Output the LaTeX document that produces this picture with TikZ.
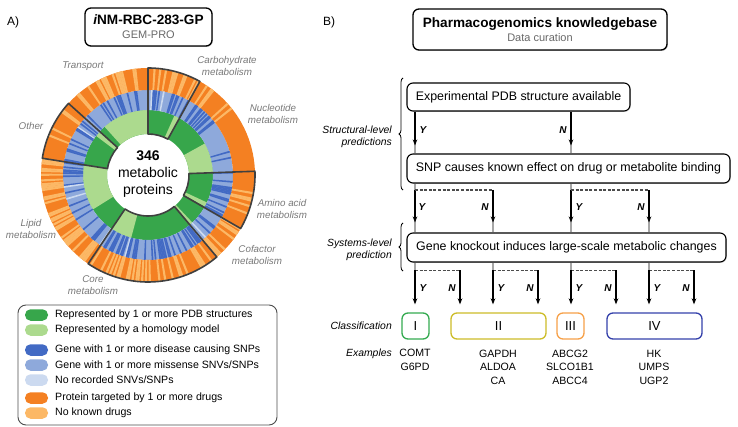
\documentclass[tikz,border=0pt]{standalone}
\usepackage{fontspec}
\setmainfont{Liberation Sans}
\usetikzlibrary{arrows.meta,decorations.pathreplacing,shadows}

\definecolor{pdbgreen}{RGB}{55,166,75}
\definecolor{homgreen}{RGB}{172,218,142}
\definecolor{dblue}{RGB}{66,106,196}
\definecolor{mblue}{RGB}{142,169,219}
\definecolor{lblue}{RGB}{204,218,240}
\definecolor{orng}{RGB}{244,128,34}
\definecolor{lorng}{RGB}{252,184,102}
\definecolor{labelgray}{RGB}{120,120,120}
\definecolor{textgray}{RGB}{105,105,105}
\definecolor{cone}{RGB}{52,170,80}
\definecolor{ctwo}{RGB}{204,188,40}
\definecolor{cthree}{RGB}{246,160,72}
\definecolor{cfour}{RGB}{52,64,170}

% one annular piece of the sunburst
\newcommand\annfill[5]{\fill[#1] (#2:#4) arc[start angle=#2, end angle=#3, radius=#4] -- (#3:#5) arc[start angle=#3, end angle=#2, radius=#5] -- cycle;}
\newcommand\anndraw[2]{\draw[secline] (#1:41) arc[start angle=#1, end angle=#2, radius=41] -- (#2:107) arc[start angle=#2, end angle=#1, radius=107] -- cycle;}

% stripes of one pathway: start, end, p(dark blue), p(light blue), p(no drug)
\newcommand\ringsector[5]{%
  \pgfmathtruncatemacro\nstrip{round((#2-(#1))/1.04)}%
  \pgfmathsetmacro\wstrip{(#2-(#1))/\nstrip}%
  \pgfmathsetmacro\lbcut{1-#4}%
  \foreach \k in {1,...,\nstrip}{%
    \pgfmathsetmacro\sta{#1+(\k-1)*\wstrip}%
    \pgfmathsetmacro\stb{\sta+\wstrip+0.15}%
    \pgfmathsetmacro\ublue{rnd}%
    \pgfmathsetmacro\uorng{rnd}%
    \ifdim\ublue pt<#3pt \annfill{dblue}{\sta}{\stb}{65}{85}\fi
    \ifdim\ublue pt>\lbcut pt \annfill{lblue}{\sta}{\stb}{65}{85}\fi
    \ifdim\uorng pt<#5pt \annfill{lorng}{\sta}{\stb}{85}{107}\fi
  }%
}

\begin{document}
\begin{tikzpicture}[x=1pt,y=-1pt,
  secline/.style={draw=black!75, line width=1.6pt, line join=round},
  seclabel/.style={font=\fontsize{9.8}{12}\selectfont\itshape, text=labelgray, align=center},
  titlebox/.style={draw, rounded corners=6pt, line width=1.3pt, fill=white, align=center, inner sep=0pt,
    drop shadow={shadow xshift=0.9pt, shadow yshift=-0.9pt, fill=black!40}, font=\fontsize{11}{14}\selectfont},
  flowbox/.style={draw, rounded corners=6pt, line width=1.1pt, fill=white, inner sep=0pt,
    drop shadow={shadow xshift=0.8pt, shadow yshift=-0.8pt, fill=black!35}, font=\fontsize{12.4}{15}\selectfont},
  classbox/.style={rounded corners=6pt, line width=1.3pt, minimum height=26pt, inner sep=0pt, font=\fontsize{13}{15}\selectfont},
  swatch/.style={rounded corners=5.5pt, minimum width=23pt, minimum height=11.5pt, inner sep=0pt},
  legtext/.style={anchor=west, inner sep=0pt, font=\fontsize{10.6}{12}\selectfont},
  sidelabel/.style={anchor=east, align=right, inner sep=1pt, font=\fontsize{10.4}{12}\selectfont\itshape},
  example/.style={align=center, inner sep=0pt, font=\fontsize{10.6}{13.5}\selectfont},
  yn/.style={font=\fontsize{10}{12}\selectfont\bfseries\itshape, inner sep=0pt},
  flow/.style={line width=1.4pt, -{Stealth[length=6pt,width=4.6pt]}},
  tail/.style={line width=1.4pt, black!35},
  branch/.style={line width=1.2pt, black!70, dash pattern=on 3pt off 1.6pt},
  brace/.style={decorate, decoration={brace, amplitude=4pt}, line width=0.8pt}]

\useasboundingbox (0,0) rectangle (738,427);

% ---------- A) GEM-PRO sunburst
\node[font=\fontsize{12}{14}\selectfont] (plA) at (13,22) {A)};
\node[titlebox, minimum width=127pt, minimum height=38pt] (gempro) at (148.5,27)
  {{\fontsize{13.6}{14}\selectfont\bfseries\itshape i\upshape NM-RBC-283-GP}\\{\color{textgray}GEM-PRO}};

\begin{scope}[shift={(148,175)}, y=1pt]
  \pgfmathsetseed{2017}
  % structures
  \fill[pdbgreen, even odd rule] (0,0) circle[radius=65] (0,0) circle[radius=41];
  \annfill{homgreen}{-29}{-25}{41}{65}
  \annfill{homgreen}{2}{29}{41}{65}
  \annfill{homgreen}{61}{66}{41}{65}
  \annfill{homgreen}{90}{132}{41}{65}
  \annfill{homgreen}{138}{143}{41}{65}
  \annfill{homgreen}{171}{212}{41}{65}
  \annfill{homgreen}{236}{255}{41}{65}
  \annfill{homgreen}{310}{313}{41}{65}
  % SNPs and drugs
  \fill[mblue, even odd rule] (0,0) circle[radius=85] (0,0) circle[radius=65];
  \fill[orng, even odd rule] (0,0) circle[radius=107] (0,0) circle[radius=85];
  \ringsector{-30}{2}{0.42}{0.02}{0.14}
  \ringsector{2}{38}{0.08}{0.02}{0.06}
  \ringsector{38}{56}{0.45}{0}{0.1}
  \ringsector{56}{61}{0.15}{0}{0.25}
  \ringsector{61}{90}{0.3}{0.03}{0.22}
  \ringsector{90}{138}{0.2}{0.06}{0.35}
  \ringsector{138}{171}{0.38}{0.05}{0.25}
  \ringsector{171}{236}{0.22}{0.06}{0.55}
  \ringsector{236}{310}{0.42}{0.08}{0.35}
  \ringsector{310}{330}{0.32}{0.03}{0.3}
  % outlined pathways
  \anndraw{-30}{2}
  \anndraw{61}{90}
  \anndraw{138}{171}
  \anndraw{236}{310}
\end{scope}

\node[align=center, inner sep=0pt, font=\fontsize{14}{17}\selectfont] (total) at (148,174)
  {\textbf{346}\\metabolic\\proteins};

\node[seclabel] (transport) at (83,66) {Transport};
\node[seclabel] (carbo) at (227,66.5) {Carbohydrate\\metabolism};
\node[seclabel] (nucleo) at (273,114) {Nucleotide\\metabolism};
\node[seclabel] (other) at (31,126) {Other};
\node[seclabel] (amino) at (282,209) {Amino acid\\metabolism};
\node[seclabel] (lipid) at (31,229) {Lipid\\metabolism};
\node[seclabel] (cofactor) at (257,255) {Cofactor\\metabolism};
\node[seclabel] (coremet) at (93,285) {Core\\metabolism};

% legend
\node[draw=black!70, line width=0.9pt, rounded corners=8pt, minimum width=259pt, minimum height=120pt] (legend) at (147.5,365) {};
\node[swatch, fill=pdbgreen] (sw1) at (36.5,315) {};
\node[swatch, fill=homgreen] (sw2) at (36.5,330) {};
\node[swatch, fill=dblue] (sw3) at (36.5,350) {};
\node[swatch, fill=mblue] (sw4) at (36.5,365) {};
\node[swatch, fill=lblue] (sw5) at (36.5,380) {};
\node[swatch, fill=orng] (sw6) at (36.5,398) {};
\node[swatch, fill=lorng] (sw7) at (36.5,413) {};
\node[legtext] (lt1) at (55,315) {Represented by 1 or more PDB structures};
\node[legtext] (lt2) at (55,330) {Represented by a homology model};
\node[legtext] (lt3) at (55,350) {Gene with 1 or more disease causing SNPs};
\node[legtext] (lt4) at (55,365) {Gene with 1 or more missense SNVs/SNPs};
\node[legtext] (lt5) at (55,380) {No recorded SNVs/SNPs};
\node[legtext] (lt6) at (55,398) {Protein targeted by 1 or more drugs};
\node[legtext] (lt7) at (55,413) {No known drugs};

% ---------- B) decision tree
\node[font=\fontsize{12}{14}\selectfont] (plB) at (329,22) {B)};
\node[titlebox, minimum width=254pt, minimum height=41pt] (pgkb) at (540,29.5)
  {{\fontsize{13.6}{14}\selectfont\bfseries Pharmacogenomics knowledgebase}\\{\color{textgray}Data curation}};

\node[flowbox, minimum width=223pt, minimum height=28pt] (pdb) at (518.5,97) {Experimental PDB structure available};
\node[flowbox, minimum width=323pt, minimum height=29pt] (snp) at (568.5,168.5) {SNP causes known effect on drug or metabolite binding};
\node[flowbox, minimum width=319pt, minimum height=29pt] (ko) at (566.5,247.5) {Gene knockout induces large-scale metabolic changes};

\node[classbox, draw=cone, minimum width=27pt] (cI) at (415.5,326) {I};
\node[classbox, draw=ctwo, minimum width=95pt] (cII) at (498.5,326) {II};
\node[classbox, draw=cthree, minimum width=27pt] (cIII) at (570.5,326) {III};
\node[classbox, draw=cfour, minimum width=95pt] (cIV) at (654.5,326) {IV};

\node[example] (exI) at (415,360) {COMT\\G6PD};
\node[example] (exII) at (498,367) {GAPDH\\ALDOA\\CA};
\node[example] (exIII) at (570,367) {ABCG2\\SLCO1B1\\ABCC4};
\node[example] (exIV) at (654,367) {HK\\UMPS\\UGP2};

\node[sidelabel] (structlbl) at (393,137) {Structural-level\\predictions};
\node[sidelabel] (syslbl) at (393,249.5) {Systems-level\\prediction};
\node[sidelabel] (classlbl) at (393,325.5) {Classification};
\node[sidelabel] (exlbl) at (393,354) {Examples};

\draw[brace] (403,190) -- (403,78);
\draw[brace] (403,271) -- (403,223);

% columns of the arrows
\coordinate (colA) at (415,0);
\coordinate (colAn) at (460,0);
\coordinate (colB) at (493,0);
\coordinate (colBn) at (538,0);
\coordinate (colC) at (571,0);
\coordinate (colCn) at (616,0);
\coordinate (colD) at (649,0);
\coordinate (colDn) at (694,0);
\coordinate (jA) at (415,190);
\coordinate (jC) at (571,190);
\coordinate (kA) at (415,270.5);
\coordinate (kB) at (493,270.5);
\coordinate (kC) at (571,270.5);
\coordinate (kD) at (649,270.5);

% structure available?
\draw[tail] (pdb.south -| colA) -- (snp.north -| colA);
\draw[tail] (pdb.south -| colC) -- (snp.north -| colC);
\draw[flow, shorten >=8pt] (pdb.south -| colA) -- (snp.north -| colA);
\draw[flow, shorten >=8pt] (pdb.south -| colC) -- (snp.north -| colC);
\node[yn] (y1) at (423,130) {Y};
\node[yn] (n1) at (563,130) {N};

% SNP effect?
\foreach \j/\c in {jA/colB, jC/colD}{
  \draw[tail] (snp.south -| \j) -- (ko.north -| \j);
  \draw[tail] (\j -| \c) -- (ko.north -| \c);
  \draw[flow, shorten >=10pt] (\j) -- (ko.north -| \j);
  \draw[branch] (\j) -- (\j -| \c);
  \draw[flow, shorten >=10pt] (\j -| \c) -- (ko.north -| \c);
}
\node[yn] (y2) at (422,207) {Y};
\node[yn] (n2) at (485,207) {N};
\node[yn] (y3) at (579,207) {Y};
\node[yn] (n3) at (641,207) {N};

% knockout effect?
\draw[tail] (ko.south -| colA) -- (kA);
\draw[tail] (ko.south -| colB) -- (kB);
\draw[tail] (ko.south -| colC) -- (kC);
\draw[tail] (ko.south -| colD) -- (kD);
\draw[branch] (kA) -- (kA -| colAn);
\draw[branch] (kB) -- (kB -| colBn);
\draw[branch] (kC) -- (kC -| colCn);
\draw[branch] (kD) -- (kD -| colDn);
\draw[flow, shorten >=8pt] (kA) -- (cI.north -| colA);
\draw[flow, shorten >=8pt] (kA -| colAn) -- (cII.north -| colAn);
\draw[flow, shorten >=8pt] (kB) -- (cII.north -| colB);
\draw[flow, shorten >=8pt] (kB -| colBn) -- (cII.north -| colBn);
\draw[flow, shorten >=8pt] (kC) -- (cIII.north -| colC);
\draw[flow, shorten >=8pt] (kC -| colCn) -- (cIV.north -| colCn);
\draw[flow, shorten >=8pt] (kD) -- (cIV.north -| colD);
\draw[flow, shorten >=8pt] (kD -| colDn) -- (cIV.north -| colDn);
\node[yn] (y4) at (423,288) {Y};
\node[yn] (n4) at (452,288) {N};
\node[yn] (y5) at (501,288) {Y};
\node[yn] (n5) at (530,288) {N};
\node[yn] (y6) at (579,288) {Y};
\node[yn] (n6) at (608,288) {N};
\node[yn] (y7) at (657,288) {Y};
\node[yn] (n7) at (686,288) {N};

\end{tikzpicture}
\end{document}
